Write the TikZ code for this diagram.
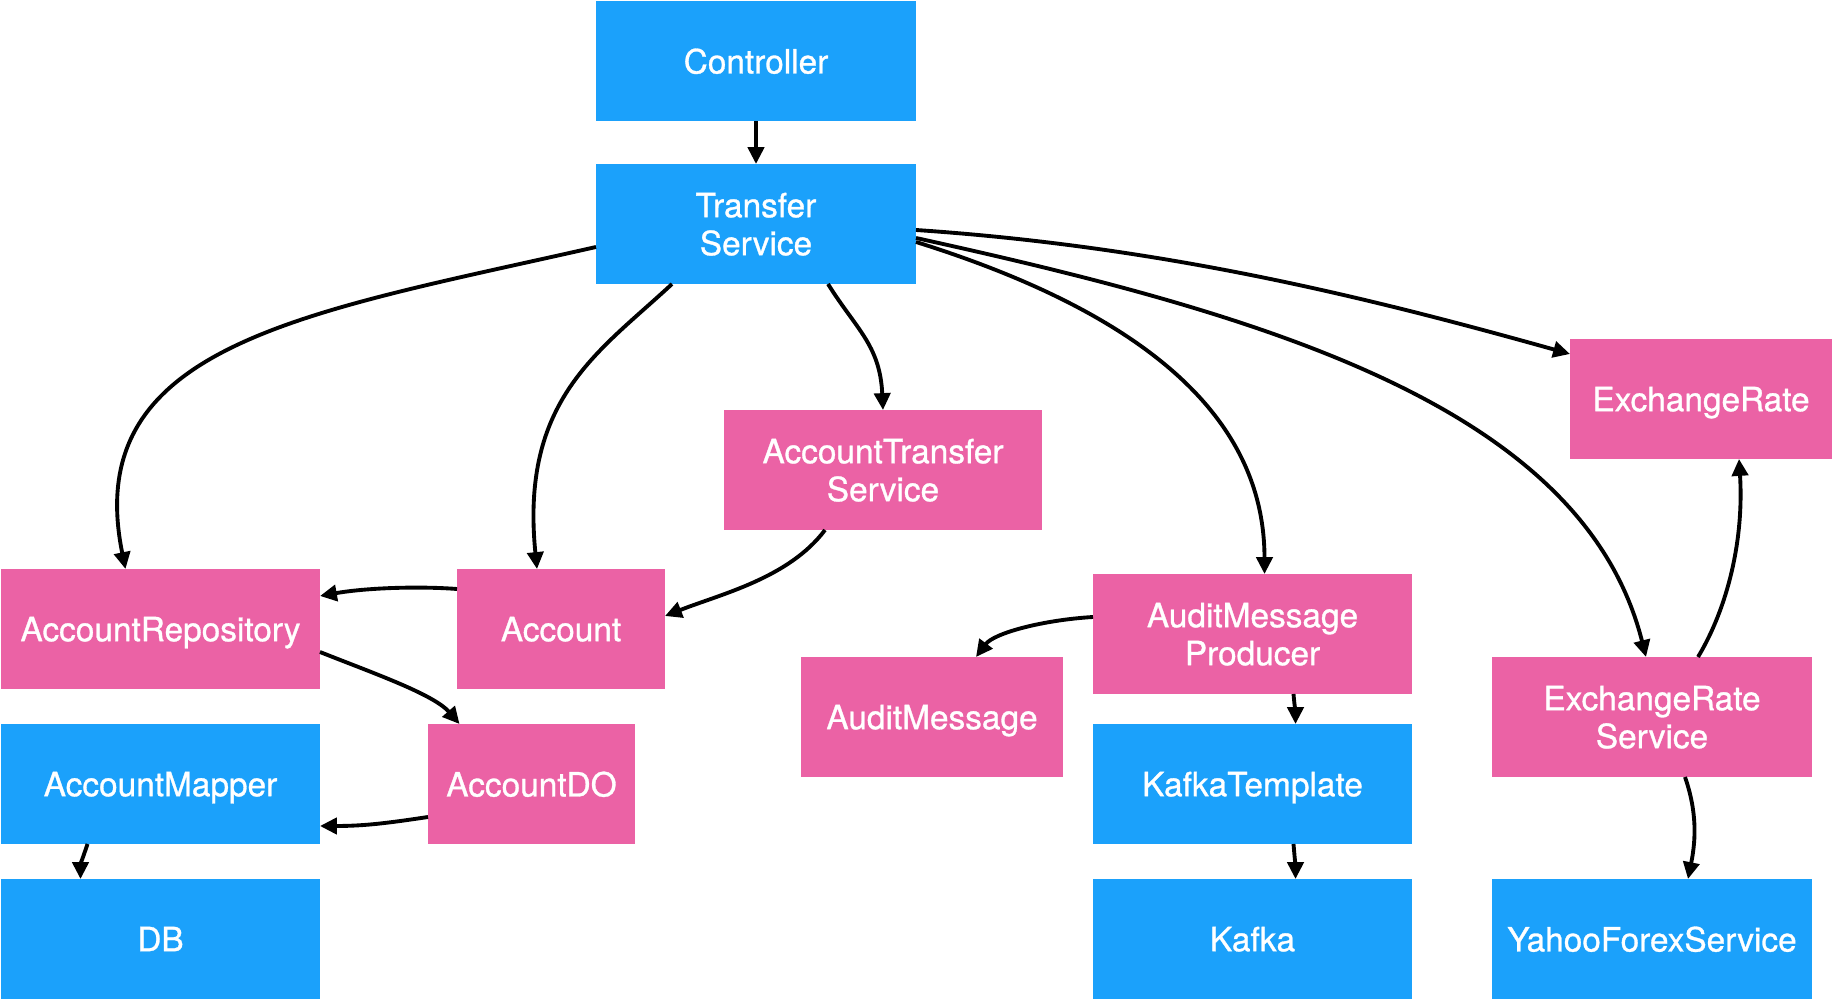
\documentclass[tikz,border=0pt]{standalone}
\usepackage{fontspec}
\setmainfont{TeX Gyre Heros}
\newfontfamily\boxfont{TeX Gyre Heros}[FakeBold=0.9]
\usetikzlibrary{arrows.meta}
\definecolor{svcblue}{RGB}{27,161,251}
\definecolor{clspink}{RGB}{235,98,165}
\tikzset{
  box/.style={rectangle, minimum width=#1, minimum height=1.2cm,
              inner sep=0pt, outer sep=0pt, align=center, text=white,
              text depth=0pt, font=\boxfont\fontsize{9.5}{10.8}\selectfont},
  box/.default=3.2cm,
  bluebox/.style={box=#1, fill=svcblue},
  bluebox/.default=3.2cm,
  pinkbox/.style={box=#1, fill=clspink},
  pinkbox/.default=3.2cm,
  arr/.style={-{Triangle[length=4.8pt,width=4.6pt]}, line width=1.1pt},
}
\begin{document}
\begin{tikzpicture}
\useasboundingbox (0,0) rectangle (18.33,-10);

%% top
\node[bluebox] (ctrl) at (7.56,-0.61) {Controller};
\node[bluebox] (ts)   at (7.56,-2.24) {Transfer\\Service};

%% second row
\node[pinkbox=2.62cm] (er)    at (17.01,-3.99)  {ExchangeRate};
\node[pinkbox=3.18cm] (ats)   at (8.83,-4.70)   {AccountTransfer\\Service};
\node[pinkbox=3.19cm] (arepo) at (1.605,-6.29)  {AccountRepository};
\node[pinkbox=2.08cm] (acc)   at (5.61,-6.29)   {Account};
\node[pinkbox=3.19cm] (amp)   at (12.525,-6.34) {AuditMessage\\Producer};
\node[pinkbox=2.62cm] (amsg)  at (9.32,-7.17)   {AuditMessage};
\node[pinkbox]        (ers)   at (16.52,-7.17)  {ExchangeRate\\Service};

%% lower rows
\node[bluebox=3.19cm] (amap)  at (1.605,-7.84)  {AccountMapper};
\node[pinkbox=2.07cm] (ado)   at (5.315,-7.84)  {AccountDO};
\node[bluebox=3.19cm] (kt)    at (12.525,-7.84) {KafkaTemplate};
\node[bluebox=3.19cm] (db)    at (1.605,-9.39)  {DB};
\node[bluebox=3.19cm] (kafka) at (12.525,-9.39) {Kafka};
\node[bluebox]        (yahoo) at (16.52,-9.39)  {YahooForexService};

%% arrows from the service
\draw[arr] (ctrl) -- (ts);
\draw[arr] ([yshift=-0.23cm]ts.west) .. controls +(-2.91,-0.66) and +(-0.46,2.25) .. ([xshift=-0.35cm]arepo.north);
\draw[arr] ([xshift=-0.84cm]ts.south) .. controls +(-0.73,-0.68) and +(-0.17,1.70) .. ([xshift=-0.24cm]acc.north);
\draw[arr] ([xshift=0.72cm]ts.south) .. controls +(0.28,-0.45) and +(-0.03,0.65) .. (ats.north);
\draw[arr] ([yshift=-0.18cm]ts.east) .. controls +(2.40,-0.75) and +(0,1.50) .. ([xshift=0.12cm]amp.north);
\draw[arr] ([yshift=-0.14cm]ts.east) .. controls +(3.50,-0.77) and +(-0.63,2.50) .. ([xshift=-0.06cm]ers.north);
\draw[arr] ([yshift=-0.06cm]ts.east) .. controls +(2.50,-0.17) and +(-2.00,0.56) .. ([yshift=0.45cm]er.west);

%% account side
\draw[arr] ([xshift=-0.58cm]ats.south) .. controls +(-0.36,-0.48) and +(0.56,0.22) .. ([yshift=0.13cm]acc.east);
\draw[arr] ([yshift=0.40cm]acc.west) .. controls +(-0.40,0.03) and +(0.45,0.08) .. ([yshift=0.33cm]arepo.east);
\draw[arr] ([yshift=-0.23cm]arepo.east) .. controls +(0.50,-0.20) and +(-0.26,0.30) .. ([xshift=-0.72cm]ado.north);
\draw[arr] ([yshift=-0.33cm]ado.west) .. controls +(-0.40,-0.06) and +(0.45,0) .. ([yshift=-0.42cm]amap.east);
\draw[arr] ([xshift=-0.73cm]amap.south) .. controls +(-0.05,-0.15) and +(0,0.15) .. ([xshift=-0.80cm]db.north);

%% audit side
\draw[arr] ([yshift=0.17cm]amp.west) .. controls +(-0.50,-0.03) and +(0.18,0.24) .. ([xshift=0.44cm]amsg.north);
\draw[arr] ([xshift=0.41cm]amp.south) .. controls +(0.01,-0.12) and +(0,0.12) .. ([xshift=0.43cm]kt.north);
\draw[arr] ([xshift=0.41cm]kt.south) .. controls +(0.01,-0.12) and +(0,0.12) .. ([xshift=0.43cm]kafka.north);

%% exchange rate side
\draw[arr] ([xshift=0.33cm]ers.south) .. controls +(0.12,-0.35) and +(0.08,0.40) .. ([xshift=0.36cm]yahoo.north);
\draw[arr] ([xshift=0.46cm]ers.north) .. controls +(0.30,0.50) and +(0.05,-0.80) .. ([xshift=0.38cm]er.south);

\end{tikzpicture}
\end{document}
